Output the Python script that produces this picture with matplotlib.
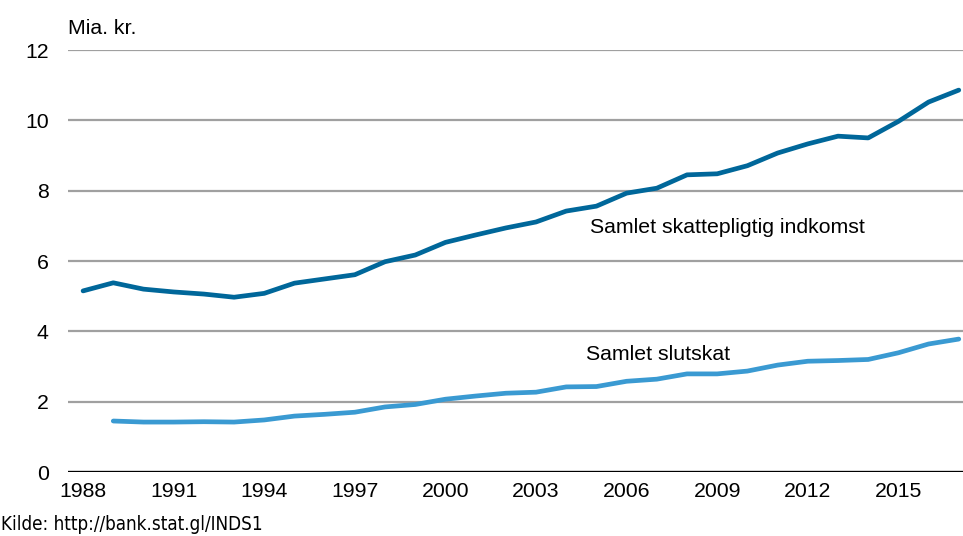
import matplotlib
matplotlib.use("Agg")
import matplotlib.pyplot as plt

years = list(range(1988, 2018))

# Samlet skattepligtig indkomst (mia. kr.)
indkomst = [5.15, 5.38, 5.20, 5.12, 5.06, 4.97, 5.08, 5.37, 5.49, 5.61,
            5.98, 6.17, 6.53, 6.74, 6.94, 7.11, 7.42, 7.56, 7.93, 8.07,
            8.45, 8.48, 8.71, 9.07, 9.33, 9.55, 9.50, 9.97, 10.52, 10.86]

# Samlet slutskat (mia. kr.), starter i 1989
slutskat_years = list(range(1989, 2018))
slutskat = [1.45, 1.42, 1.42, 1.43, 1.42, 1.48, 1.59, 1.64, 1.70, 1.85,
            1.92, 2.07, 2.16, 2.24, 2.27, 2.42, 2.43, 2.58, 2.64, 2.79,
            2.79, 2.87, 3.04, 3.15, 3.17, 3.20, 3.39, 3.64, 3.78]

xtick_years = list(range(1988, 2016, 3))
yticks = [0, 2, 4, 6, 8, 10, 12]

dark = "#00679a"
light = "#3a9ad2"

plt.rcParams["font.family"] = ["Liberation Sans", "DejaVu Sans"]

fig = plt.figure(figsize=(9.63, 5.36), dpi=100)
ax = fig.add_axes([0.0706, 0.1194, 0.9294, 0.7873])

for y in yticks[1:]:
    ax.axhline(y, color="#a0a0a0", lw=1.6, zorder=1)
ax.axhline(0, color="black", lw=2.4, zorder=3)

ax.plot(years, indkomst, color=dark, lw=3.4, solid_capstyle="round", zorder=4)
ax.plot(slutskat_years, slutskat, color=light, lw=3.4, solid_capstyle="round", zorder=4)

ax.set_xlim(1987.5, 2017.14)
ax.set_ylim(0, 12)
ax.set_xticks(xtick_years)
ax.set_yticks(yticks)
ax.tick_params(axis="both", length=0, labelsize=15.3)
ax.tick_params(axis="y", pad=14)
ax.tick_params(axis="x", pad=7)
for s in ax.spines.values():
    s.set_visible(False)

ax.text(2004.8, 6.95, "Samlet skattepligtig indkomst", fontsize=15.3, va="center")
ax.text(2004.65, 3.35, "Samlet slutskat", fontsize=15.3, va="center")

fig.text(68 / 963, 1 - 28 / 536, "Mia. kr.", fontsize=15.3, va="center")
fig.text(1 / 963, 1 - 525 / 536, "Kilde: http://bank.stat.gl/INDS1", fontsize=13.5,
         va="center", family="DejaVu Sans", fontstretch="condensed")

fig.savefig("out.png", dpi=100)
